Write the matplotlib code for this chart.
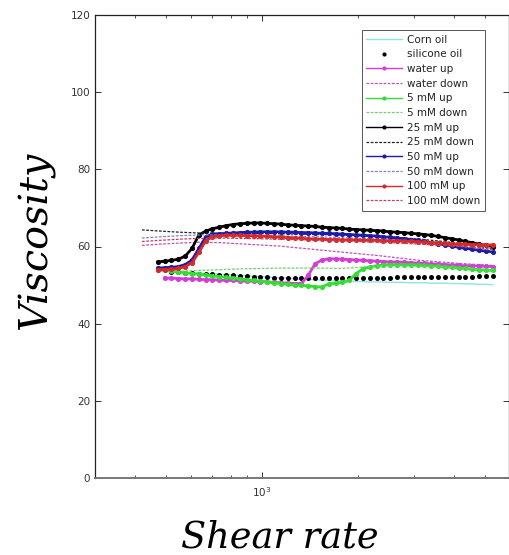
import numpy as np
import matplotlib
matplotlib.use("Agg")
import matplotlib.pyplot as plt
from matplotlib.ticker import FixedLocator, NullFormatter, FixedFormatter

nan = float("nan")

# shear rates of the "up" sweeps (with markers)
rate_up = [472, 496, 521, 547, 575, 604, 635, 667, 700, 736, 773, 812, 853, 896,
           942, 989, 1039, 1092, 1147, 1205, 1266, 1330, 1397, 1468, 1542, 1620,
           1702, 1788, 1879, 1974, 2073, 2178, 2288, 2404, 2526, 2653, 2788, 2929,
           3077, 3232, 3396, 3568, 3748, 3937, 4137, 4346, 4565, 4796, 5039, 5294]

# shear rates of the "down" sweeps (dashed)
rate_down = [421, 479, 553, 639, 739, 853, 986, 1139, 1316, 1520, 1756, 2029,
             2344, 2708, 3128, 3614, 4175, 4824, 5298]

corn_oil = [nan, nan, 53.5, 53.4, 53.3, 53.2, 53.1, 53.0, 52.9, 52.8, 52.7, 52.6,
            52.5, 52.4, 52.3, 52.2, 52.1, 52.0, 51.9, 51.8, 51.7, 51.6, 51.5, 51.4,
            51.3, 51.2, 51.1, 51.0, 51.0, 50.9, 50.9, 50.8, 50.8, 50.8, 50.7, 50.7,
            50.7, 50.6, 50.6, 50.6, 50.5, 50.5, 50.5, 50.4, 50.4, 50.3, 50.3, 50.2,
            50.2, 50.1]

silicone_oil = [nan, nan, 53.4, 53.3, 53.2, 53.1, 53.0, 52.9, 52.8, 52.7, 52.6, 52.5,
                52.4, 52.3, 52.2, 52.1, 52.0, 51.9, 51.9, 51.8, 51.8, 51.8, 51.8, 51.8,
                51.8, 51.8, 51.8, 51.8, 51.8, 51.8, 51.8, 51.9, 51.9, 51.9, 51.9, 52.0,
                52.0, 52.0, 52.0, 52.1, 52.1, 52.1, 52.1, 52.2, 52.2, 52.2, 52.2, 52.3,
                52.3, 52.3]

water_up = [nan, 51.8, 51.8, 51.7, 51.6, 51.6, 51.5, 51.4, 51.4, 51.3, 51.2, 51.2,
            51.1, 51.0, 51.0, 50.9, 50.8, 50.7, 50.6, 50.5, 50.4, 50.4, 52.5, 55.5,
            56.5, 56.8, 56.8, 56.7, 56.6, 56.5, 56.4, 56.3, 56.2, 56.1, 56.0, 56.0,
            55.9, 55.8, 55.7, 55.6, 55.5, 55.4, 55.3, 55.2, 55.1, 55.0, 55.0, 54.9,
            54.9, 54.8]

mm5_up = [54.0, 53.8, 53.6, 53.4, 53.2, 53.0, 52.8, 52.6, 52.4, 52.2, 52.0, 51.8,
          51.6, 51.4, 51.2, 51.0, 50.8, 50.6, 50.4, 50.2, 50.0, 49.9, 49.8, 49.6,
          49.5, 50.3, 50.5, 50.7, 51.2, 53.0, 54.2, 54.7, 55.0, 55.2, 55.3, 55.3,
          55.3, 55.3, 55.2, 55.1, 55.0, 54.9, 54.7, 54.6, 54.4, 54.3, 54.1, 54.0,
          53.9, 53.8]

mm25_up = [56.0, 56.2, 56.4, 56.7, 57.5, 59.5, 63.0, 64.0, 64.6, 65.0, 65.4, 65.7,
           65.9, 66.0, 66.1, 66.1, 66.0, 65.9, 65.8, 65.6, 65.5, 65.4, 65.3, 65.2,
           65.0, 64.9, 64.8, 64.7, 64.5, 64.4, 64.3, 64.2, 64.1, 64.0, 63.8, 63.7,
           63.6, 63.4, 63.3, 63.1, 62.9, 62.6, 62.3, 62.0, 61.7, 61.3, 61.0, 60.6,
           60.3, 60.0]

mm50_up = [54.4, 54.5, 54.6, 54.8, 55.3, 56.5, 59.5, 62.5, 63.2, 63.3, 63.4, 63.5,
           63.6, 63.7, 63.7, 63.8, 63.8, 63.8, 63.8, 63.7, 63.7, 63.6, 63.6, 63.5,
           63.4, 63.4, 63.3, 63.2, 63.1, 63.0, 62.9, 62.8, 62.7, 62.5, 62.4, 62.2,
           62.0, 61.8, 61.6, 61.3, 61.0, 60.7, 60.4, 60.1, 59.8, 59.5, 59.3, 59.0,
           58.8, 58.6]

mm100_up = [54.0, 54.0, 54.1, 54.3, 54.8, 55.8, 58.5, 61.5, 62.5, 62.8, 62.9, 62.9,
            62.9, 62.8, 62.8, 62.7, 62.6, 62.5, 62.4, 62.3, 62.2, 62.1, 62.0, 61.9,
            61.9, 61.8, 61.8, 61.7, 61.7, 61.7, 61.6, 61.6, 61.6, 61.5, 61.5, 61.4,
            61.4, 61.3, 61.2, 61.1, 61.0, 60.9, 60.8, 60.7, 60.6, 60.6, 60.5, 60.5,
            60.4, 60.4]

water_down = [60.3, 60.6, 60.9, 61.1, 61.0, 60.7, 60.4, 60.1, 59.6, 59.1, 58.6, 58.1,
              57.6, 57.0, 56.4, 56.0, 55.6, 55.3, 55.1]
mm5_down = [nan, 53.6, 53.6, 53.8, 54.0, 54.2, 54.3, 54.4, 54.4, 54.4, 54.3, 54.6,
            55.0, 55.0, 54.9, 54.7, 54.4, 54.1, 53.9]
mm25_down = [64.3, 64.0, 63.7, 63.5, 63.4, 63.4, 63.4, 63.3, 63.2, 63.1, 63.0, 62.8,
             62.6, 62.3, 61.9, 61.4, 60.8, 60.0, 59.4]
mm50_down = [62.2, 62.5, 62.8, 63.0, 63.0, 63.0, 62.9, 62.8, 62.6, 62.5, 62.3, 62.1,
             61.9, 61.6, 61.2, 60.7, 60.1, 59.5, 59.0]
mm100_down = [61.3, 61.6, 61.9, 62.1, 62.2, 62.1, 62.0, 61.9, 61.8, 61.6, 61.5, 61.3,
              61.1, 60.9, 60.6, 60.3, 60.0, 59.6, 59.3]

y_ticks = [0, 20, 40, 60, 80, 100, 120]
x_major = [1000]
x_major_labels = ["$10^3$"]
x_minor = [300, 400, 500, 600, 700, 800, 900, 2000, 3000, 4000, 5000]

fig = plt.figure(figsize=(5.10, 5.55), dpi=100)
ax = fig.add_axes([95 / 510, 77 / 555, 414 / 510, 463 / 555])

up_kw = dict(marker="o", markersize=3.7, linewidth=2.0, markeredgewidth=0)
dn_kw = dict(linestyle=(0, (2.2, 1.2)), linewidth=0.9)

ax.plot(rate_up, corn_oil, color="#8fe3e3", linewidth=1.0, label="Corn oil")
ax.plot(rate_up, silicone_oil, color="black", linestyle="none", marker="o",
        markersize=3.6, markeredgewidth=0, label="silicone oil")
ax.plot(rate_up, water_up, color="#d63cd6", label="water up", **up_kw)
ax.plot(rate_down, water_down, color="#c050c0", label="water down", **dn_kw)
ax.plot(rate_up, mm5_up, color="#33dd33", label="5 mM up", **up_kw)
ax.plot(rate_down, mm5_down, color="#70d070", label="5 mM down", **dn_kw)
ax.plot(rate_up, mm25_up, color="black", label="25 mM up", **up_kw)
ax.plot(rate_down, mm25_down, color="#222222", label="25 mM down", **dn_kw)
ax.plot(rate_up, mm50_up, color="#1c1ca8", label="50 mM up", **up_kw)
ax.plot(rate_down, mm50_down, color="#8080c8", label="50 mM down", **dn_kw)
ax.plot(rate_up, mm100_up, color="#d42a2a", label="100 mM up", **up_kw)
ax.plot(rate_down, mm100_down, color="#c04060", label="100 mM down", **dn_kw)

ax.set_xscale("log")
ax.set_xlim(300, 5950)
ax.set_ylim(0, 120)
ax.xaxis.set_major_locator(FixedLocator(x_major))
ax.xaxis.set_major_formatter(FixedFormatter(x_major_labels))
ax.xaxis.set_minor_locator(FixedLocator(x_minor))
ax.xaxis.set_minor_formatter(NullFormatter())
ax.set_yticks(y_ticks)
ax.tick_params(which="both", direction="in", top=True, right=True,
               labelsize=7.5, labelcolor="#333333", color="#333333")
ax.tick_params(which="major", length=4, width=0.7)
ax.tick_params(which="minor", length=2.5, width=0.6)
ax.tick_params(axis="x", pad=5)
for s in ax.spines.values():
    s.set_linewidth(0.9)
    s.set_color("#222222")
ax.spines["bottom"].set_color("#777777")
ax.spines["bottom"].set_linewidth(1.4)

leg = ax.legend(loc="upper right", bbox_to_anchor=(0.942, 0.968), borderaxespad=0,
                fontsize=7.5, numpoints=1, handlelength=3.4, handletextpad=0.5,
                labelspacing=0.45, fancybox=False, framealpha=1,
                edgecolor="#555555", borderpad=0.45)
leg.get_frame().set_linewidth(0.7)
for t in leg.get_texts():
    t.set_color("#222222")
for h in leg.get_lines():
    if h.get_linestyle() == "-":
        h.set_linewidth(1.0)
    h.set_markersize(3.0)

fig.text(280 / 510, 8 / 555, "Shear rate", fontsize=26.5, family="DejaVu Serif",
         style="italic", ha="center", va="baseline")
fig.text(36 / 510, 0.5676, "Viscosity", fontsize=28.5, family="DejaVu Serif",
         style="italic", ha="center", va="center", rotation=90)

fig.savefig("out.png", dpi=100)
